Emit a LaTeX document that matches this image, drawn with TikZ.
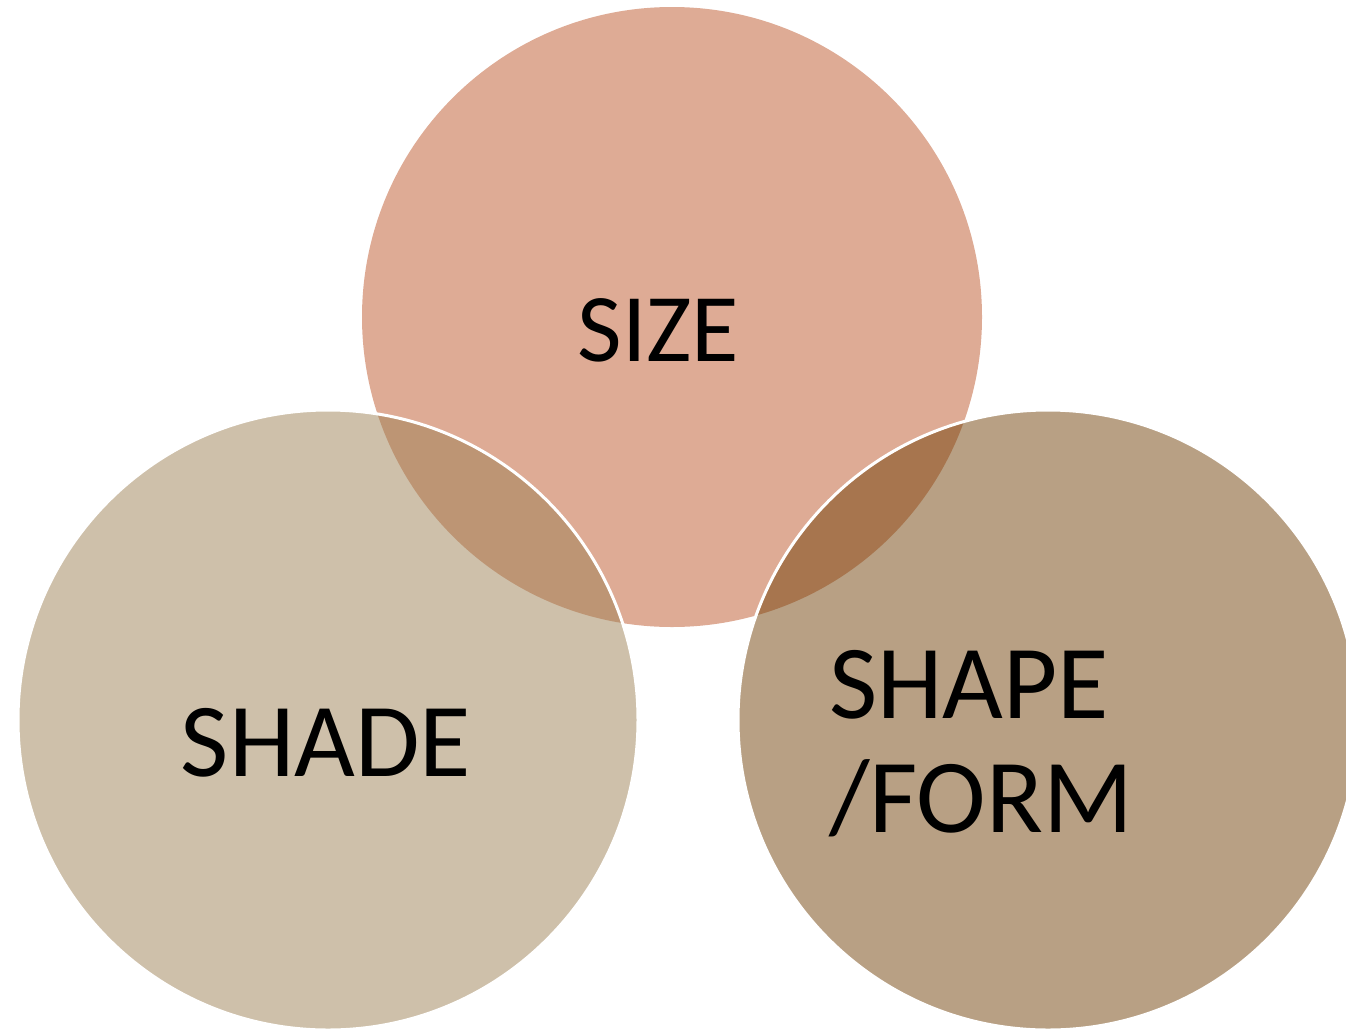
\documentclass[tikz,border=0pt]{standalone}
\usepackage{fontspec}
\setmainfont{Carlito}
\definecolor{sizefill}{RGB}{222,171,149}
\definecolor{shadefill}{RGB}{157,129,85}
\definecolor{formfill}{RGB}{113,65,9}
\begin{document}
\begin{tikzpicture}[x=1pt,y=-1pt,
  bubble/.style={circle, minimum size=620pt, inner sep=0pt, outer sep=0pt},
  overbubble/.style={bubble, draw=white, line width=3pt, fill opacity=0.5, draw opacity=1},
  bigtext/.style={inner sep=0pt, outer sep=0pt, text=black, font=\fontsize{105}{114}\selectfont},
  smalltext/.style={inner sep=0pt, outer sep=0pt, text=black, font=\fontsize{97}{110}\selectfont}]
\useasboundingbox (0,0) rectangle (1346,1031);
\clip (0,0) rectangle (1346,1031);
\node[bubble, fill=sizefill] (sizecircle) at (672,317) {};
\node[overbubble, fill=shadefill] (shadecircle) at (328,720) {};
\node[overbubble, fill=formfill] (formcircle) at (1048,720) {};
\node[smalltext, anchor=base] (sizelabel) at (658.5,361) {SIZE};
\node[bigtext, anchor=base] (shadelabel) at (326,776) {SHADE};
\node[bigtext, anchor=north west, align=left] (formlabel) at (829,650) {SHAPE\\/FORM};
\end{tikzpicture}
\end{document}
